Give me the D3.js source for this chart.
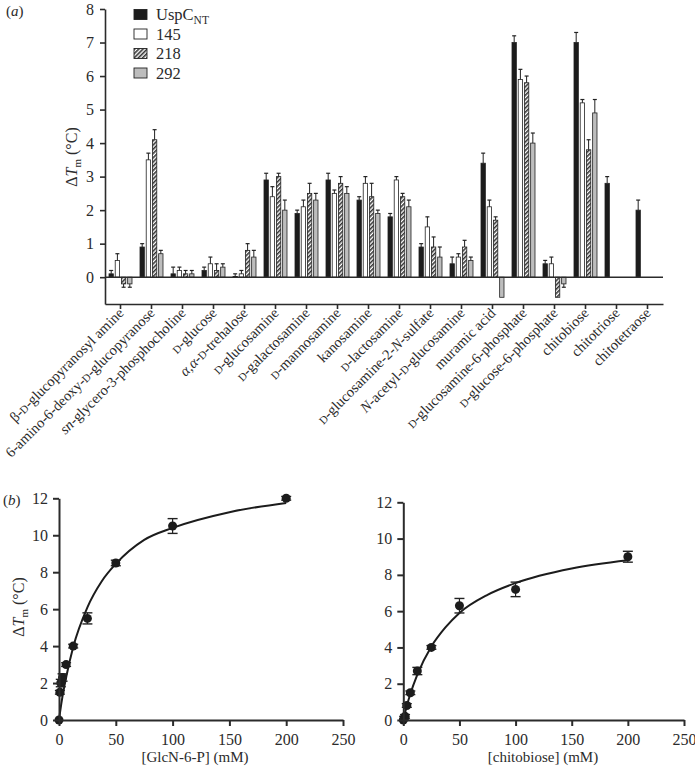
<!DOCTYPE html>
<html><head><meta charset="utf-8">
<script src="https://cdn.jsdelivr.net/npm/d3@7"></script>
<style>
body{margin:0;background:#fff}
text{font-family:"Liberation Serif","Times New Roman",serif;fill:#2b2b2b}
</style>
</head><body><svg id="c" width="695" height="767"></svg>
<script>
// ---------- Panel (a) data ----------
const categories = [
  "β-D-glucopyranosyl amine","6-amino-6-deoxy-D-glucopyranose","sn-glycero-3-phosphocholine",
  "D-glucose","α,α-D-trehalose","D-glucosamine","D-galactosamine","D-mannosamine","kanosamine",
  "D-lactosamine","D-glucosamine-2-N-sulfate","N-acetyl-D-glucosamine","muramic acid",
  "D-glucosamine-6-phosphate","D-glucose-6-phosphate","chitobiose","chitotriose","chitotetraose"
];
const seriesNames = ["UspC_NT","145","218","292"];
const uspcValues = [0.1,0.9,0.1,0.2,0.02,2.9,1.9,2.9,2.3,1.8,0.9,0.4,3.4,7.0,0.4,7.0,2.8,2.0];
const uspcErrors = [0.1,0.1,0.2,0.1,0.08,0.2,0.1,0.2,0.1,0.1,0.1,0.2,0.3,0.2,0.1,0.3,0.2,0.3];
const v145 = [0.5,3.5,0.2,0.4,0.1,2.4,2.1,2.5,2.8,2.9,1.5,0.6,2.1,5.9,0.4,5.2,null,null];
const e145 = [0.2,0.2,0.1,0.2,0.1,0.3,0.2,0.1,0.2,0.1,0.3,0.1,0.2,0.3,0.2,0.1,null,null];
const v218 = [-0.2,4.1,0.1,0.2,0.8,3.0,2.5,2.8,2.4,2.4,0.9,0.9,1.7,5.8,-0.6,3.8,null,null];
const e218 = [0.1,0.3,0.1,0.2,0.2,0.1,0.3,0.2,0.4,0.1,0.3,0.2,0.1,0.2,0,0.3,null,null];
const v292 = [-0.2,0.7,0.1,0.3,0.6,2.0,2.3,2.5,1.9,2.1,0.6,0.5,-0.6,4.0,-0.2,4.9,null,null];
const e292 = [0.1,0.1,0.1,0.1,0.2,0.3,0.2,0.2,0.1,0.2,0.3,0.1,0,0.3,0.1,0.4,null,null];
const yTicksA = [0,1,2,3,4,5,6,7,8];

// ---------- Panel (b) data ----------
const glcConc = [0,0.78,1.56,3.125,6.25,12.5,25,50,100,200];
const glcDT   = [0,1.5,2.0,2.3,3.0,4.0,5.5,8.5,10.5,12.0];
const glcErr  = [0,0.1,0.2,0.2,0.1,0.1,0.3,0.15,0.4,0.1];
const glcFitX = [0,1,3,6.25,12.5,25,37.5,50,75,100,150,200];
const glcFitY = [0,0.45,1.25,2.3,3.95,6.1,7.5,8.45,9.75,10.4,11.25,11.75];

const chiConc = [0,0.78,1.56,3.125,6.25,12.5,25,50,100,200];
const chiDT   = [0,0.1,0.2,0.8,1.5,2.7,4.0,6.3,7.2,9.0];
const chiErr  = [0,0.1,0.1,0.1,0.1,0.2,0.1,0.4,0.4,0.3];
const chiFitX = [0,1,3,6.25,12.5,25,37.5,50,75,100,150,200];
const chiFitY = [0,0.26,0.75,1.43,2.5,4.05,5.1,5.9,6.9,7.55,8.35,8.8];

const xTicksB = [0,50,100,150,200,250];
const yTicksB = [0,2,4,6,8,10,12];

// ---------- drawing ----------
const svg = d3.select("#c");
svg.append("rect").attr("width",695).attr("height",767).attr("fill","#fff");
const ink = "#2b2b2b";

const defs = svg.append("defs");
const pat = defs.append("pattern").attr("id","hatch").attr("patternUnits","userSpaceOnUse")
  .attr("width",3).attr("height",3).attr("patternTransform","rotate(45)");
pat.append("rect").attr("width",3).attr("height",3).attr("fill","#fff");
pat.append("line").attr("x1",0.8).attr("y1",0).attr("x2",0.8).attr("y2",3).attr("stroke","#333").attr("stroke-width",1.6);

const fills = {"UspC_NT":"#1c1c1c","145":"#ffffff","218":"url(#hatch)","292":"#bdbdbd"};
const seriesData = [
  {key:"UspC_NT", values:uspcValues, errors:uspcErrors},
  {key:"145", values:v145, errors:e145},
  {key:"218", values:v218, errors:e218},
  {key:"292", values:v292, errors:e292}
];

function richText(sel, label, size){
  const parts = label.split(/(α,α|sn(?=-)|(?<=^|-)[DN](?=-))/);
  parts.forEach(p=>{
    if(!p) return;
    const t = sel.append("tspan").text(p);
    if(p==="D") t.attr("font-size", size*0.74);
    else if(p==="N"||p==="sn"||p==="α,α") t.attr("font-style","italic");
  });
}

// Panel (a)
const x0 = d3.scaleBand().domain(categories).range([105,663]);
const x1 = d3.scaleBand().domain(seriesNames).range([4,27]).paddingInner(0.3);
const yA = d3.scaleLinear().domain([-0.8,8]).range([304,9]);

const gA = svg.append("g");
seriesData.forEach(s=>{
  categories.forEach((c,i)=>{
    const v = s.values[i];
    if(v===null) return;
    const bx = x0(c)+x1(s.key);
    gA.append("rect").attr("x",bx).attr("y",Math.min(yA(v),yA(0)))
      .attr("width",x1.bandwidth()).attr("height",Math.abs(yA(v)-yA(0)))
      .attr("fill",fills[s.key]).attr("stroke","#222").attr("stroke-width",0.8);
    const e = s.errors[i];
    if(e){
      const cx = bx + x1.bandwidth()/2;
      const end = v>=0 ? v+e : v-e;
      gA.append("line").attr("x1",cx).attr("x2",cx).attr("y1",yA(v)).attr("y2",yA(end)).attr("stroke","#222").attr("stroke-width",1);
      gA.append("line").attr("x1",cx-2).attr("x2",cx+2).attr("y1",yA(end)).attr("y2",yA(end)).attr("stroke","#222").attr("stroke-width",1.2);
    }
  });
});
gA.append("line").attr("x1",105).attr("x2",663).attr("y1",yA(0)).attr("y2",yA(0)).attr("stroke",ink).attr("stroke-width",1.6);
const axA = gA.append("g").attr("transform","translate(105,0)")
  .call(d3.axisLeft(yA).tickValues(yTicksA).tickSize(5).tickSizeOuter(0).tickPadding(6));
axA.selectAll("text").attr("font-size",16).attr("font-family","Liberation Serif").attr("fill",ink);
const axB = gA.append("g").attr("transform","translate(0,304)")
  .call(d3.axisBottom(x0).tickSize(5).tickSizeOuter(0).tickFormat(""));
[axA,axB].forEach(a=>{a.selectAll("path,line").attr("stroke",ink).attr("stroke-width",1.6);});
categories.forEach(c=>{
  const t = gA.append("text").attr("text-anchor","end").attr("font-size",14.6)
    .attr("transform",`translate(${x0(c)+x0.bandwidth()/2+4},${314}) rotate(-45)`);
  richText(t,c,14.6);
});
const yl = gA.append("text").attr("transform","translate(77,157) rotate(-90)").attr("text-anchor","middle").attr("font-size",16);
yl.append("tspan").text("Δ");
yl.append("tspan").attr("font-style","italic").text("T");
yl.append("tspan").attr("font-size",11).attr("dy",4).text("m");
yl.append("tspan").attr("dy",-4).text(" (°C)");
const ta = svg.append("text").attr("x",6).attr("y",16).attr("font-size",15);
ta.append("tspan").text("(");ta.append("tspan").attr("font-style","italic").text("a");ta.append("tspan").text(")");
seriesNames.forEach((s,i)=>{
  const cy = 14.5 + i*19.5;
  gA.append("rect").attr("x",134).attr("y",cy-5).attr("width",13).attr("height",10)
    .attr("fill",fills[s]).attr("stroke","#222").attr("stroke-width",0.9);
  const t = gA.append("text").attr("x",156).attr("y",cy+5.5).attr("font-size",16.5);
  if(s==="UspC_NT"){ t.append("tspan").text("UspC"); t.append("tspan").attr("font-size",11.5).attr("dy",4).text("NT"); }
  else t.text(s);
});

// Panel (b)
function kinetic(xr, yr, conc, dT, err, fitX, fitY, xlabel, xlabelX, ylabel){
  const x = d3.scaleLinear().domain([0,250]).range(xr);
  const y = d3.scaleLinear().domain([0,12]).range(yr);
  const g = svg.append("g");
  const line = d3.line().x((d,i)=>x(fitX[i])).y((d,i)=>y(fitY[i])).curve(d3.curveMonotoneX);
  g.append("path").datum(fitX).attr("d",line).attr("fill","none").attr("stroke","#1c1c1c").attr("stroke-width",2);
  conc.forEach((c,i)=>{
    const e = err[i];
    if(e>0.05){
      const cx = x(c);
      g.append("line").attr("x1",cx).attr("x2",cx).attr("y1",y(dT[i]-e)).attr("y2",y(dT[i]+e)).attr("stroke","#222").attr("stroke-width",1.2);
      [dT[i]-e,dT[i]+e].forEach(v=>g.append("line").attr("x1",cx-5).attr("x2",cx+5).attr("y1",y(v)).attr("y2",y(v)).attr("stroke","#222").attr("stroke-width",1.4));
    }
    g.append("circle").attr("cx",x(c)).attr("cy",y(dT[i])).attr("r",4.5).attr("fill","#1c1c1c");
  });
  const ax = g.append("g").attr("transform",`translate(0,${yr[0]})`)
    .call(d3.axisBottom(x).tickValues(xTicksB).tickSize(6).tickSizeOuter(0).tickPadding(8));
  const ay = g.append("g").attr("transform",`translate(${xr[0]},0)`)
    .call(d3.axisLeft(y).tickValues(yTicksB).tickSize(6).tickSizeOuter(0).tickPadding(5));
  [ax,ay].forEach(a=>{
    a.selectAll("path,line").attr("stroke",ink).attr("stroke-width",2);
    a.selectAll("text").attr("font-size",16).attr("font-family","Liberation Serif").attr("fill",ink);
  });
  g.append("text").attr("x",xlabelX).attr("y",762).attr("text-anchor","middle").attr("font-size",15).text(xlabel);
  if(ylabel){
    const t = g.append("text").attr("transform","translate(24,607) rotate(-90)").attr("text-anchor","middle").attr("font-size",16);
    t.append("tspan").text("Δ");
    t.append("tspan").attr("font-style","italic").text("T");
    t.append("tspan").attr("font-size",11).attr("dy",4).text("m");
    t.append("tspan").attr("dy",-4).text(" (°C)");
  }
}
kinetic([59,343],[720,498.3],glcConc,glcDT,glcErr,glcFitX,glcFitY,"[GlcN-6-P] (mM)",195,true);
kinetic([403.3,684],[720,502.3],chiConc,chiDT,chiErr,chiFitX,chiFitY,"[chitobiose] (mM)",543,false);

const tb = svg.append("text").attr("x",3).attr("y",505).attr("font-size",15);
tb.append("tspan").text("(");tb.append("tspan").attr("font-style","italic").text("b");tb.append("tspan").text(")");
</script></body></html>
